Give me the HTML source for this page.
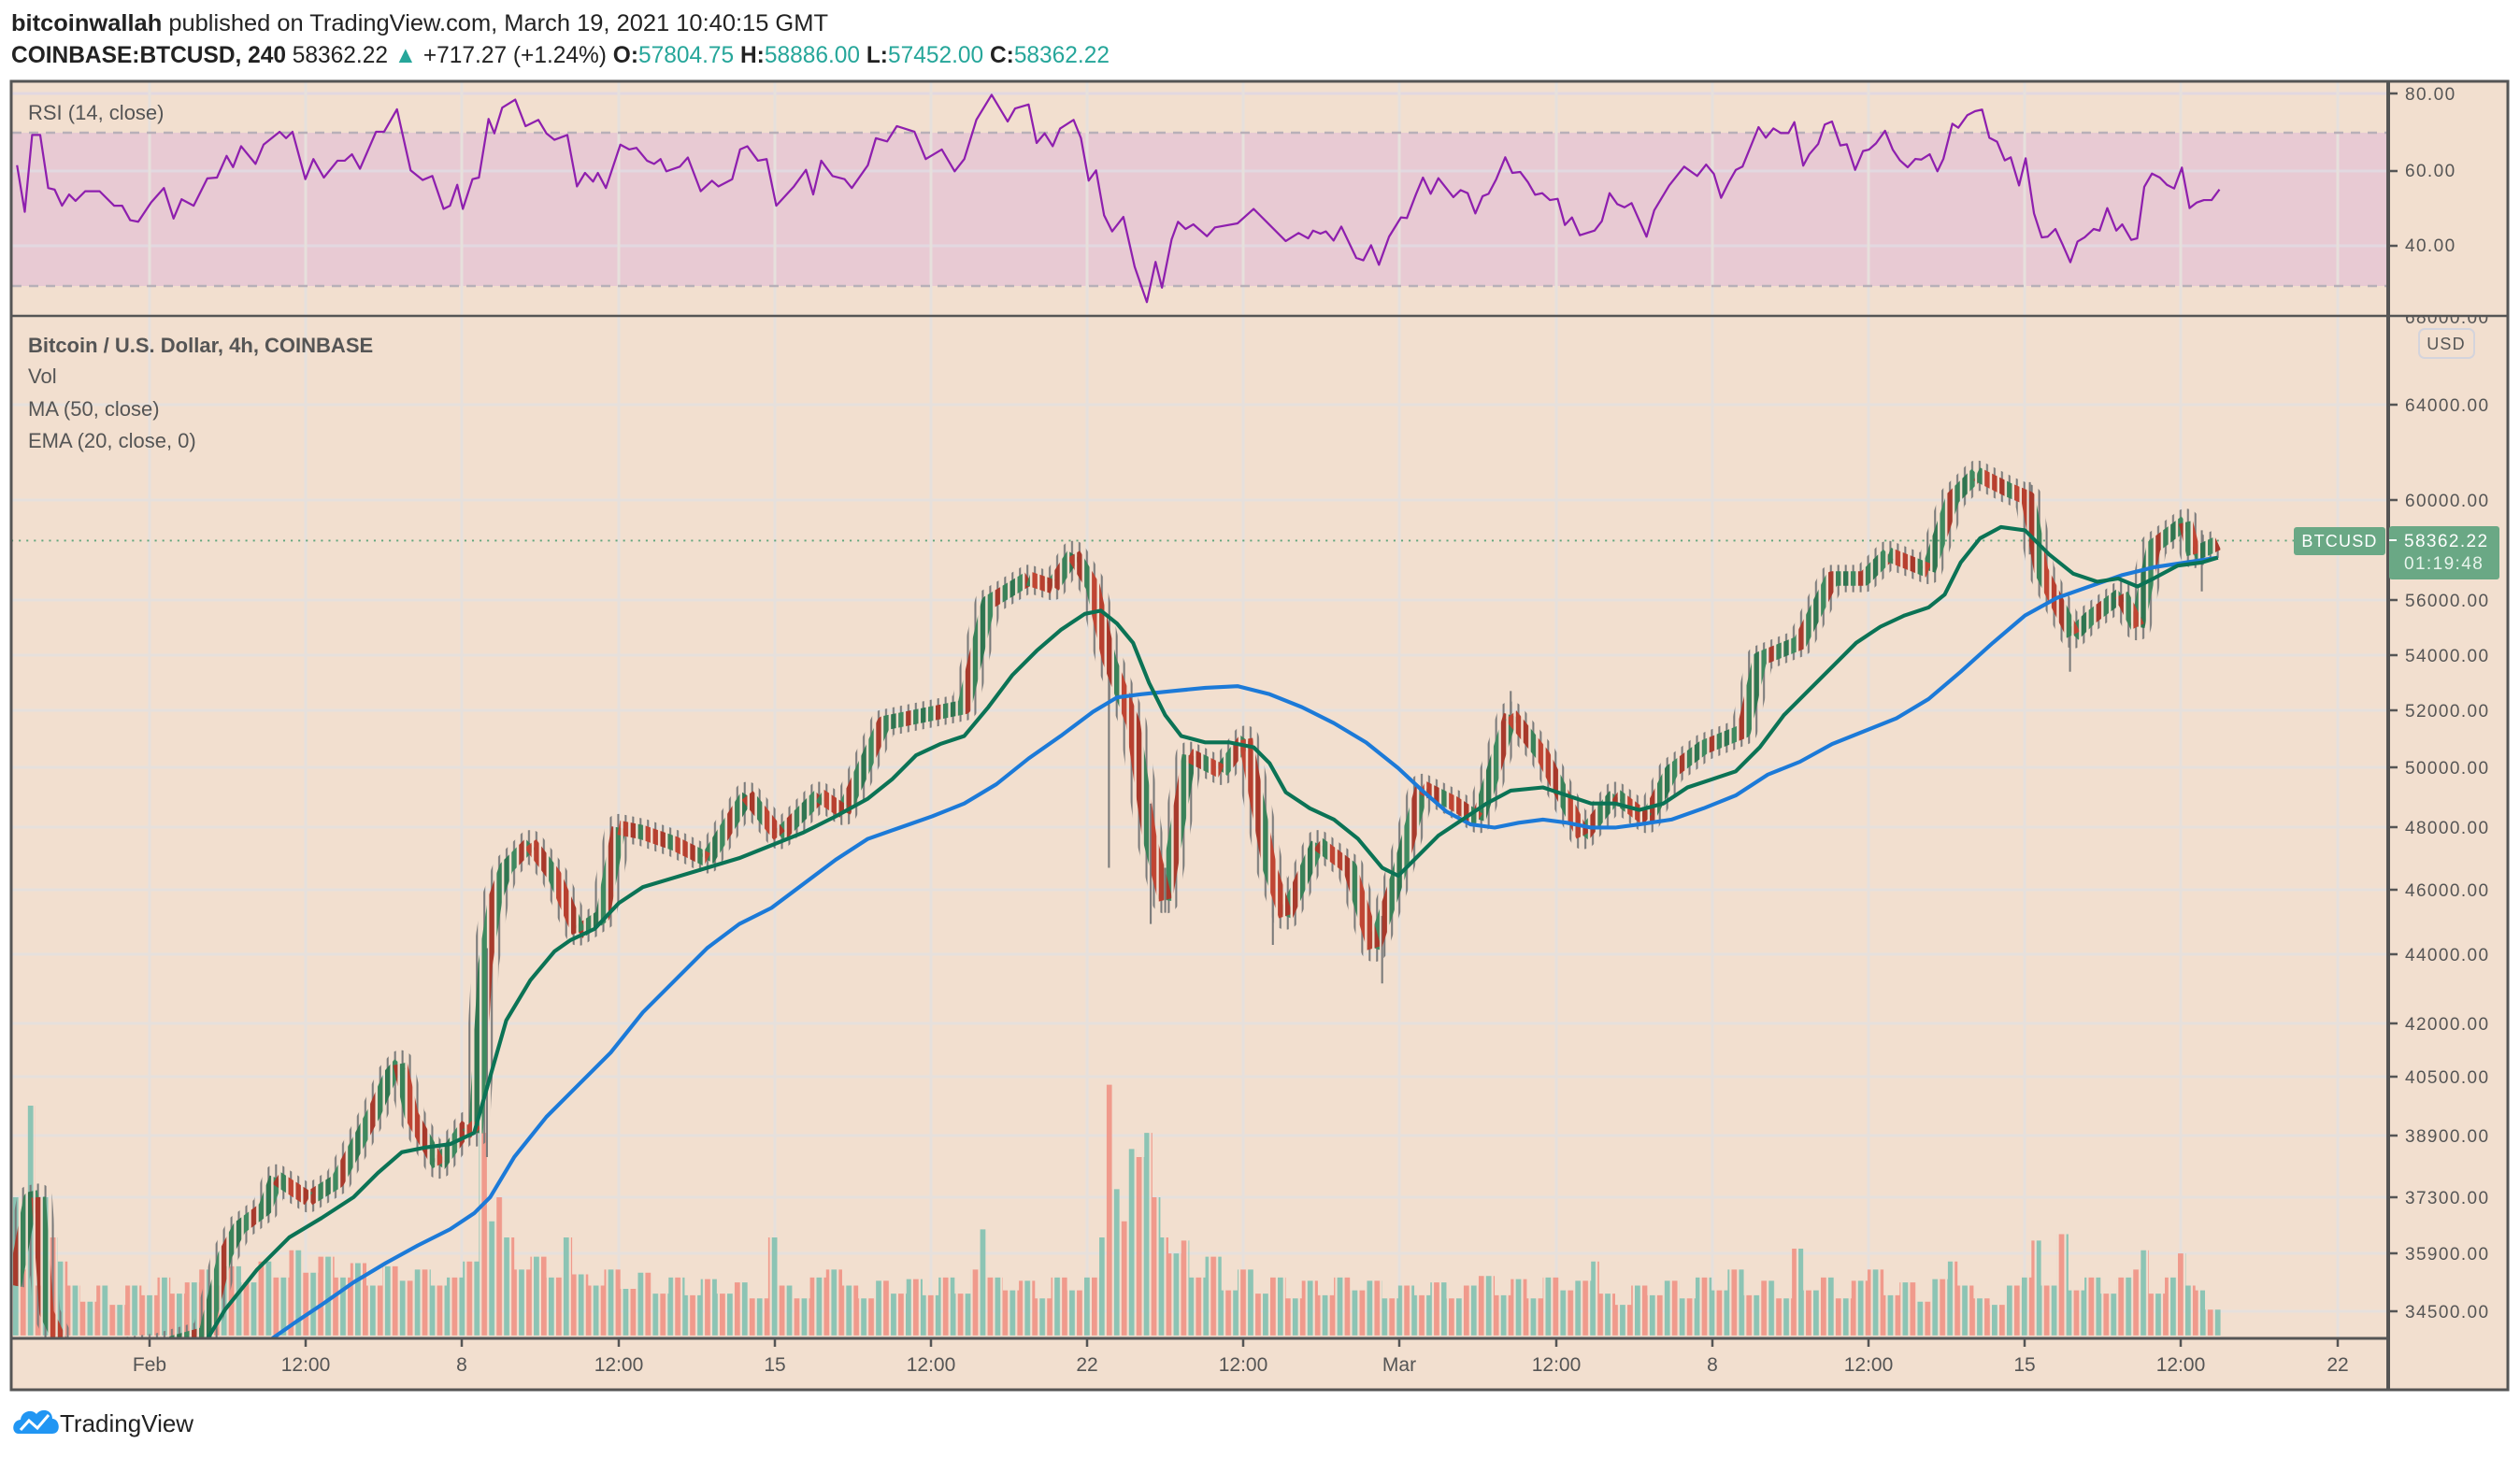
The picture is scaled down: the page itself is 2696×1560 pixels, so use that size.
<!DOCTYPE html>
<html><head><meta charset="utf-8"><style>
html,body{margin:0;padding:0;background:#fff;}
body{width:2696px;height:1560px;overflow:hidden;}
svg{display:block;font-family:"Liberation Sans",sans-serif;}
</style></head><body>
<svg width="2696" height="1560" viewBox="0 0 2696 1560" xmlns="http://www.w3.org/2000/svg">
<defs>
<clipPath id="cp"><rect x="13" y="339" width="2541" height="1092"/></clipPath>
<clipPath id="cr"><rect x="13" y="88" width="2541" height="249"/></clipPath>
<clipPath id="ca"><rect x="2557" y="339" width="125" height="1092"/></clipPath>
<pattern id="pv" patternUnits="userSpaceOnUse" x="91.41" y="0" width="9.258" height="1000">
<rect x="0" y="0" width="3.35" height="1000" fill="#8cc4b4"/>
<rect x="4.629" y="0" width="3.35" height="1000" fill="#f09a8c"/>
</pattern>
<pattern id="pw" patternUnits="userSpaceOnUse" x="91.49" y="0" width="4.629" height="1000">
<rect x="0.97" y="0" width="1.2" height="1000" fill="#7a7a7a"/>
</pattern>
<pattern id="pg" patternUnits="userSpaceOnUse" x="91.49" y="0" width="18.516" height="1000">
<rect x="0" y="0" width="3.14" height="1000" fill="#2f7550"/>
<rect x="4.629" y="0" width="3.14" height="1000" fill="#3f8a60"/>
<rect x="9.258" y="0" width="3.14" height="1000" fill="#a83a2c"/>
<rect x="13.887" y="0" width="3.14" height="1000" fill="#3a8259"/>
</pattern>
<pattern id="pr" patternUnits="userSpaceOnUse" x="91.49" y="0" width="18.516" height="1000">
<rect x="0" y="0" width="3.14" height="1000" fill="#b8402f"/>
<rect x="4.629" y="0" width="3.14" height="1000" fill="#a8382a"/>
<rect x="9.258" y="0" width="3.14" height="1000" fill="#3a8259"/>
<rect x="13.887" y="0" width="3.14" height="1000" fill="#c04533"/>
</pattern>
</defs>
<rect x="12" y="87" width="2671" height="1400" fill="#f2dfcf"/>
<rect x="13" y="142" width="2541" height="164" fill="#e8cad3"/>
<g stroke="#e6e0dc" stroke-width="3">
<line x1="13" x2="2554" y1="100" y2="100" stroke="#e2d8e0"/><line x1="13" x2="2554" y1="183" y2="183" stroke="#e2d8e0"/><line x1="13" x2="2554" y1="263" y2="263" stroke="#e2d8e0"/>
<line x1="13" x2="2554" y1="433" y2="433"/><line x1="13" x2="2554" y1="535" y2="535"/><line x1="13" x2="2554" y1="642" y2="642"/><line x1="13" x2="2554" y1="701" y2="701"/><line x1="13" x2="2554" y1="760" y2="760"/><line x1="13" x2="2554" y1="821" y2="821"/><line x1="13" x2="2554" y1="885" y2="885"/><line x1="13" x2="2554" y1="952" y2="952"/><line x1="13" x2="2554" y1="1021" y2="1021"/><line x1="13" x2="2554" y1="1095" y2="1095"/><line x1="13" x2="2554" y1="1152" y2="1152"/><line x1="13" x2="2554" y1="1215" y2="1215"/><line x1="13" x2="2554" y1="1281" y2="1281"/><line x1="13" x2="2554" y1="1341" y2="1341"/><line x1="13" x2="2554" y1="1403" y2="1403"/>
<line x1="160" x2="160" y1="88" y2="1431"/><line x1="327" x2="327" y1="88" y2="1431"/><line x1="494" x2="494" y1="88" y2="1431"/><line x1="662" x2="662" y1="88" y2="1431"/><line x1="829" x2="829" y1="88" y2="1431"/><line x1="996" x2="996" y1="88" y2="1431"/><line x1="1163" x2="1163" y1="88" y2="1431"/><line x1="1330" x2="1330" y1="88" y2="1431"/><line x1="1497" x2="1497" y1="88" y2="1431"/><line x1="1665" x2="1665" y1="88" y2="1431"/><line x1="1832" x2="1832" y1="88" y2="1431"/><line x1="1999" x2="1999" y1="88" y2="1431"/><line x1="2166" x2="2166" y1="88" y2="1431"/><line x1="2333" x2="2333" y1="88" y2="1431"/><line x1="2501" x2="2501" y1="88" y2="1431"/>
</g>
<line x1="13" y1="142" x2="2554" y2="142" stroke="#b8b0b8" stroke-width="2.5" stroke-dasharray="10,8"/>
<line x1="13" y1="306" x2="2554" y2="306" stroke="#b8b0b8" stroke-width="2.5" stroke-dasharray="10,8"/>

<g clip-path="url(#cp)">
<g transform="scale(1.7194)">
<polygon fill="url(#pv)" points="7,831 7,745 12,745 12,790 17,790 17,688 22,688 22,800 26,800 26,745 31,745 31,770 36,770 36,785 42,785 42,800 50,800 50,810 60,810 60,800 68,800 68,812 78,812 78,800 88,800 88,806 98,806 98,795 106,795 106,805 115,805 115,798 124,798 124,790 130,790 130,800 140,800 140,788 150,788 150,798 160,798 160,785 170,785 170,795 180,795 180,778 188,778 188,792 198,792 198,782 208,782 208,795 218,795 218,786 228,786 228,800 238,800 238,788 248,788 248,797 258,797 258,790 268,790 268,800 278,800 278,795 288,795 288,785 298,785 298,705 303,705 303,760 308,760 308,745 313,745 313,770 320,770 320,790 330,790 330,782 340,782 340,795 350,795 350,770 356,770 356,793 366,793 366,800 376,800 376,790 386,790 386,802 396,802 396,792 406,792 406,805 416,805 416,795 426,795 426,806 436,806 436,796 446,796 446,805 456,805 456,798 466,798 466,808 478,808 478,770 484,770 484,800 494,800 494,808 504,808 504,795 514,795 514,790 524,790 524,800 534,800 534,808 544,808 544,797 554,797 554,805 564,805 564,796 574,796 574,806 584,806 584,795 594,795 594,805 604,805 604,790 609,790 609,765 614,765 614,795 624,795 624,803 634,803 634,797 644,797 644,808 654,808 654,795 664,795 664,803 674,803 674,795 684,795 684,770 688,770 688,675 692,675 692,740 697,740 697,760 702,760 702,715 707,715 707,720 712,720 712,705 717,705 717,745 722,745 722,770 727,770 727,780 735,780 735,772 740,772 740,795 750,795 750,782 760,782 760,803 770,803 770,790 780,790 780,805 790,805 790,795 800,795 800,808 810,808 810,797 820,797 820,806 830,806 830,795 840,795 840,803 850,803 850,797 860,797 860,808 870,808 870,800 880,800 880,806 890,806 890,798 900,798 900,808 910,808 910,800 920,800 920,794 930,794 930,806 940,806 940,796 950,796 950,808 960,808 960,795 970,795 970,803 980,803 980,797 990,797 990,785 995,785 995,805 1005,805 1005,812 1015,812 1015,800 1025,800 1025,806 1035,806 1035,797 1045,797 1045,808 1055,808 1055,795 1065,795 1065,803 1075,803 1075,790 1085,790 1085,806 1095,806 1095,797 1105,797 1105,808 1115,808 1115,777 1122,777 1122,803 1132,803 1132,795 1142,795 1142,808 1152,808 1152,797 1162,797 1162,790 1172,790 1172,806 1182,806 1182,798 1192,798 1192,810 1202,810 1202,796 1212,796 1212,785 1218,785 1218,800 1228,800 1228,808 1238,808 1238,812 1248,812 1248,800 1258,800 1258,795 1264,795 1264,772 1270,772 1270,800 1280,800 1280,768 1287,768 1287,803 1297,803 1297,795 1307,795 1307,805 1317,805 1317,795 1327,795 1327,790 1332,790 1332,778 1337,778 1337,805 1347,805 1347,795 1355,795 1355,780 1360,780 1360,800 1366,800 1366,803 1372,803 1372,815 1382,815 1382,831"/>
<line x1="7" y1="336.4" x2="1480" y2="336.4" stroke="#5fa57c" stroke-width="1.1" stroke-dasharray="1.2,3.5"/>
<polyline fill="none" stroke="url(#pw)" stroke-width="17" stroke-linejoin="round" points="9,800 19,746 24,745 29,817 40,840 58,843 99,838 128,830 140,781 149,764 165,752 172,733 192,746 210,735 233,692 243,669 249,662 256,694 273,725 291,700 296,705 302,600 308,560 315,540 330,525 345,545 360,580 375,570 385,515 400,518 420,525 440,535 465,495 485,520 510,495 525,505 550,450 575,445 600,440 615,375 640,360 655,365 668,345 680,365 690,410 705,450 715,520 725,560 740,470 760,480 775,460 790,540 800,570 820,525 840,540 855,590 870,545 885,490 905,500 920,510 940,445 960,470 985,520 1005,495 1025,510 1040,480 1060,465 1085,455 1095,410 1120,400 1140,360 1160,360 1175,345 1200,355 1215,310 1230,295 1250,305 1262,310 1270,355 1290,395 1300,385 1320,370 1330,390 1340,340 1360,325 1365,345 1380,338"/>
<g stroke="#7a7a7a" stroke-width="1.2">
<line x1="690" y1="400" x2="690" y2="540"/><line x1="716" y1="500" x2="716" y2="575"/><line x1="725" y1="540" x2="725" y2="568"/><line x1="792" y1="520" x2="792" y2="588"/><line x1="860" y1="570" x2="860" y2="612"/><line x1="940" y1="430" x2="940" y2="455"/><line x1="1288" y1="390" x2="1288" y2="418"/><line x1="1370" y1="330" x2="1370" y2="368"/><line x1="303" y1="590" x2="303" y2="720"/><line x1="1263" y1="300" x2="1263" y2="345"/>
</g>
<path fill="none" stroke="url(#pg)" stroke-width="9" stroke-linecap="butt" stroke-linejoin="round" d="M9,800 L19,746 L24,745 M58,843 L99,838 L128,830 L140,781 L149,764 L165,752 L172,733 M192,746 L210,735 L233,692 L243,669 L249,662 M273,725 L291,700 M296,705 L302,600 L308,560 L315,540 L330,525 M360,580 L375,570 L385,515 M440,535 L465,495 M485,520 L510,495 M525,505 L550,450 L575,445 L600,440 L615,375 L640,360 M655,365 L668,345 M725,560 L740,470 M760,480 L775,460 M800,570 L820,525 M855,590 L870,545 L885,490 M920,510 L940,445 M985,520 L1005,495 M1025,510 L1040,480 L1060,465 L1085,455 L1095,410 L1120,400 L1140,360 L1160,360 L1175,345 M1200,355 L1215,310 L1230,295 M1290,395 L1300,385 L1320,370 M1330,390 L1340,340 L1360,325 M1365,345 L1380,338"/>
<path fill="none" stroke="url(#pr)" stroke-width="9" stroke-linecap="butt" stroke-linejoin="round" d="M24,745 L29,817 L40,840 L58,843 M172,733 L192,746 M249,662 L256,694 L273,725 M291,700 L296,705 M330,525 L345,545 L360,580 M385,515 L400,518 L420,525 L440,535 M465,495 L485,520 M510,495 L525,505 M640,360 L655,365 M668,345 L680,365 L690,410 L705,450 L715,520 L725,560 M740,470 L760,480 M775,460 L790,540 L800,570 M820,525 L840,540 L855,590 M885,490 L905,500 L920,510 M940,445 L960,470 L985,520 M1005,495 L1025,510 M1175,345 L1200,355 M1230,295 L1250,305 L1262,310 L1270,355 L1290,395 M1320,370 L1330,390 M1360,325 L1365,345"/>
<polyline fill="none" stroke="#1c7ad8" stroke-width="2.4" stroke-linejoin="round" points="165,836 185,822 200,812 220,798 240,786 260,775 280,765 295,755 305,745 320,720 340,695 360,675 380,655 400,630 420,610 440,590 460,575 480,565 500,550 520,535 540,522 560,515 580,508 600,500 620,488 640,472 660,458 680,443 695,434 710,432 730,430 750,428 770,427 790,432 810,440 830,450 850,462 870,478 885,492 900,505 915,513 930,515 945,512 960,510 975,512 990,515 1005,515 1020,513 1040,510 1060,503 1080,495 1100,482 1120,474 1140,463 1160,455 1180,447 1200,435 1220,418 1240,400 1260,383 1280,372 1300,365 1320,358 1340,353 1360,350 1380,347"/>
<polyline fill="none" stroke="#0b7355" stroke-width="2.4" stroke-linejoin="round" points="125,840 140,815 160,790 180,770 200,758 220,745 235,730 250,717 265,714 280,712 295,705 305,670 315,635 330,610 345,592 355,585 370,578 385,562 400,552 420,546 440,540 460,534 480,526 500,518 520,508 540,497 555,485 570,470 585,463 600,458 615,440 630,420 645,405 660,392 675,382 685,380 695,388 705,400 715,425 725,445 735,458 750,462 765,462 780,465 790,475 800,493 815,503 830,510 845,522 860,540 870,545 880,535 895,520 910,510 925,500 940,492 960,490 975,495 990,500 1005,500 1020,504 1035,500 1050,490 1065,485 1080,480 1095,465 1110,445 1125,430 1140,415 1155,400 1170,390 1185,383 1200,378 1210,370 1220,350 1232,335 1245,328 1260,330 1275,345 1290,357 1305,362 1318,360 1330,365 1340,360 1355,352 1370,350 1380,347"/>
</g>
</g>
<g clip-path="url(#cr)">
<polyline transform="scale(1.7194)" fill="none" stroke="#8e1fae" stroke-width="1.3" stroke-linejoin="round" points="10.6,102.8 15.4,131.8 20,84 25,84 30,117 34,118 38.6,128 43,121 47,125 53,119 62,119 71,128 76,128 81,137 86,138 94,126 102,117 108,136 113,124 120.5,128 129,111 135,110.5 141,97 145,104 150,91 159,102 164,90 174,82 178,86 182,82 190,111.5 195,99 201.5,110.5 210,100 214.5,100 219,96 224,105 234,82 239,82 247,68 255.5,106 263,112 269,109.5 276,130 280,128 284.5,115 288,130 294,111.5 298,110.5 304,74 307.6,83 312.5,67 320.6,62 327,78.5 335,74.6 340,83 345,87 353,84 359,116 364,107.6 369,113 372,107.6 377,117 386,90 391.5,93 396,92 402.6,100 407,102 411,99 414.6,106.6 423,103.7 428,98 436,119 443,112.5 447,116 455.6,111.5 460.5,93 465,91 471.6,100 477,99 483,128 494,116 501.5,105.7 506,121 511,100 518,109.5 525.5,111.5 530,117 540,102.8 545,86 552,88 558,78.5 569,82 576,99 586,93 594,106.6 600,99 607.5,74.6 617,59 627,75.6 631.6,67.5 640,65 645,89 650,83 655,91 659.6,80 668,74.6 672.6,86 677.4,112.4 682,106 687,134 692,144 699,135 706,166 713.6,188 719,163 723,179 729,149 733,138 737.7,142.5 742.5,139.6 751,147 756,141.5 770,139 780,130 790,140 800,150 808,145 814,148.3 817,143.5 821.6,145.4 825,144 829.8,149.7 834.6,141 843.9,160.5 848.3,162 853.1,152.6 858,164.8 864.3,147.3 871.7,135.3 875.4,135.7 881,121 885.4,110.5 890.2,120.6 895,110.9 904.3,122.7 908.8,118.3 913.2,120.2 918,132.8 922.5,122.1 926.2,120.6 931,111.5 936.6,97.9 941,107.6 945.9,107 950.7,113.4 955.2,121.2 959.6,120.2 964.4,124.5 969.2,123.7 973.7,140 978.1,135.3 983,146.4 992.2,143.5 996.7,137.6 1001.5,120.2 1006.3,127 1010.8,129 1015.2,126.4 1024.5,147.3 1029.3,130.9 1038.6,115.4 1047.9,103.7 1056,109.5 1061.6,102.4 1066.4,108.2 1070.9,123.1 1075.7,113.4 1080.1,105.7 1084.2,103.7 1094.2,79.1 1098.7,85.7 1103.5,79.9 1108,82.8 1112.8,82.8 1116.5,76 1122,103.1 1125.8,96 1131.3,89.6 1135.4,77.5 1139.9,75.6 1145.1,90.5 1149.1,89.8 1154.3,105.7 1159.2,94 1162.9,93.1 1167.3,89.2 1172.9,81.4 1177.7,93.1 1182.2,99.8 1187,104.1 1191.8,98.9 1195.5,99.3 1200.7,96 1205.5,106.6 1209.2,98.9 1214.8,77 1218.5,79.5 1224.1,71.7 1228.9,69.2 1233.3,68.2 1237.8,85.7 1242.6,88.2 1247.4,99.8 1251.1,97.9 1256.3,115.4 1260.4,98.5 1265.6,132.8 1270.4,147.7 1274.1,147.3 1278.9,142.5 1283.4,152.2 1288.2,163.2 1292.7,150.3 1297.1,147.7 1302.7,142.5 1306.4,143.5 1311.2,129.5 1316.8,143.5 1320.5,139.6 1326.1,149.3 1329.8,148.3 1334.2,116.3 1339,108 1343.9,110.5 1348.3,115 1352.8,117.3 1357.6,104.3 1362.4,129.5 1366.9,126 1371.3,124.5 1376.1,124.5 1381,117.9"/>
</g>
<rect x="12" y="87" width="2671" height="1400" fill="none" stroke="#555" stroke-width="3"/>
<line x1="12" y1="338" x2="2683" y2="338" stroke="#555" stroke-width="2.5"/>
<line x1="2555" y1="87" x2="2555" y2="1487" stroke="#555" stroke-width="4"/>
<line x1="12" y1="1432" x2="2555" y2="1432" stroke="#555" stroke-width="3"/>
<g stroke="#555" stroke-width="2.5">
<line x1="2555" x2="2565" y1="100" y2="100"/><line x1="2555" x2="2565" y1="183" y2="183"/><line x1="2555" x2="2565" y1="263" y2="263"/>
<line x1="2555" x2="2565" y1="433" y2="433"/><line x1="2555" x2="2565" y1="535" y2="535"/><line x1="2555" x2="2565" y1="642" y2="642"/><line x1="2555" x2="2565" y1="701" y2="701"/><line x1="2555" x2="2565" y1="760" y2="760"/><line x1="2555" x2="2565" y1="821" y2="821"/><line x1="2555" x2="2565" y1="885" y2="885"/><line x1="2555" x2="2565" y1="952" y2="952"/><line x1="2555" x2="2565" y1="1021" y2="1021"/><line x1="2555" x2="2565" y1="1095" y2="1095"/><line x1="2555" x2="2565" y1="1152" y2="1152"/><line x1="2555" x2="2565" y1="1215" y2="1215"/><line x1="2555" x2="2565" y1="1281" y2="1281"/><line x1="2555" x2="2565" y1="1341" y2="1341"/><line x1="2555" x2="2565" y1="1403" y2="1403"/>
<line x1="160" x2="160" y1="1432" y2="1441"/><line x1="327" x2="327" y1="1432" y2="1441"/><line x1="494" x2="494" y1="1432" y2="1441"/><line x1="662" x2="662" y1="1432" y2="1441"/><line x1="829" x2="829" y1="1432" y2="1441"/><line x1="996" x2="996" y1="1432" y2="1441"/><line x1="1163" x2="1163" y1="1432" y2="1441"/><line x1="1330" x2="1330" y1="1432" y2="1441"/><line x1="1497" x2="1497" y1="1432" y2="1441"/><line x1="1665" x2="1665" y1="1432" y2="1441"/><line x1="1832" x2="1832" y1="1432" y2="1441"/><line x1="1999" x2="1999" y1="1432" y2="1441"/><line x1="2166" x2="2166" y1="1432" y2="1441"/><line x1="2333" x2="2333" y1="1432" y2="1441"/><line x1="2501" x2="2501" y1="1432" y2="1441"/>
</g>
<text x="12" y="33" font-size="25" fill="#222" textLength="874" lengthAdjust="spacingAndGlyphs"><tspan font-weight="bold">bitcoinwallah</tspan> published on TradingView.com, March 19, 2021 10:40:15 GMT</text>
<text x="12" y="67" font-size="25" fill="#222" textLength="1175" lengthAdjust="spacingAndGlyphs"><tspan font-weight="bold">COINBASE:BTCUSD, 240</tspan> 58362.22 <tspan fill="#26a69a">▲</tspan> +717.27 (+1.24%) <tspan font-weight="bold">O:</tspan><tspan fill="#26a69a">57804.75</tspan> <tspan font-weight="bold">H:</tspan><tspan fill="#26a69a">58886.00</tspan> <tspan font-weight="bold">L:</tspan><tspan fill="#26a69a">57452.00</tspan> <tspan font-weight="bold">C:</tspan><tspan fill="#26a69a">58362.22</tspan></text>
<text x="30" y="128" font-size="22" fill="#555">RSI (14, close)</text>
<text x="30" y="377" font-size="22" fill="#555" font-weight="bold">Bitcoin / U.S. Dollar, 4h, COINBASE</text>
<text x="30" y="410" font-size="22" fill="#555">Vol</text>
<text x="30" y="445" font-size="22" fill="#555">MA (50, close)</text>
<text x="30" y="479" font-size="22" fill="#555">EMA (20, close, 0)</text>
<g font-size="19" fill="#555" letter-spacing="1.4">
<text x="2573" y="107">80.00</text>
<text x="2573" y="189">60.00</text>
<text x="2573" y="269">40.00</text>
</g>
<g font-size="19" fill="#555" letter-spacing="1.4" clip-path="url(#ca)">
<text x="2573" y="346">68000.00</text>
<text x="2573" y="440">64000.00</text>
<text x="2573" y="542">60000.00</text>
<text x="2573" y="649">56000.00</text>
<text x="2573" y="708">54000.00</text>
<text x="2573" y="767">52000.00</text>
<text x="2573" y="828">50000.00</text>
<text x="2573" y="892">48000.00</text>
<text x="2573" y="959">46000.00</text>
<text x="2573" y="1028">44000.00</text>
<text x="2573" y="1102">42000.00</text>
<text x="2573" y="1159">40500.00</text>
<text x="2573" y="1222">38900.00</text>
<text x="2573" y="1288">37300.00</text>
<text x="2573" y="1348">35900.00</text>
<text x="2573" y="1410">34500.00</text>
</g>
<rect x="2588" y="352" width="59" height="31" rx="6" fill="#f2dfcf" stroke="#d4d4dc" stroke-width="2"/>
<text x="2617" y="374" font-size="18" fill="#555" text-anchor="middle" letter-spacing="1.2">USD</text>
<rect x="2454" y="564" width="98" height="30" rx="3" fill="#6aa885"/>
<text x="2503" y="585" font-size="18" fill="#fff" text-anchor="middle" letter-spacing="1.2">BTCUSD</text>
<rect x="2556" y="563" width="118" height="57" rx="3" fill="#6aa885"/>
<line x1="2556" y1="578" x2="2564" y2="578" stroke="#fff" stroke-width="2"/>
<text x="2572" y="585" font-size="19" fill="#fff" letter-spacing="1.4">58362.22</text>
<text x="2572" y="609" font-size="19" fill="#e8f4ec" letter-spacing="1.4">01:19:48</text>
<g font-size="21" fill="#555" text-anchor="middle">
<text x="160" y="1467">Feb</text>
<text x="327" y="1467">12:00</text>
<text x="494" y="1467">8</text>
<text x="662" y="1467">12:00</text>
<text x="829" y="1467">15</text>
<text x="996" y="1467">12:00</text>
<text x="1163" y="1467">22</text>
<text x="1330" y="1467">12:00</text>
<text x="1497" y="1467">Mar</text>
<text x="1665" y="1467">12:00</text>
<text x="1832" y="1467">8</text>
<text x="1999" y="1467">12:00</text>
<text x="2166" y="1467">15</text>
<text x="2333" y="1467">12:00</text>
<text x="2501" y="1467">22</text>
</g>
<g transform="translate(14,1504)">
<path d="M6,30 C-2,30 -2,16 8,15 C9,6 20,3 25,9 C30,2 42,4 42,14 C50,14 52,30 42,30 Z" fill="#2196f3"/>
<polyline points="8,26 17,16 26,24 38,10" fill="none" stroke="#fff" stroke-width="3"/>
</g>
<text x="64" y="1532" font-size="26" fill="#222">TradingView</text>
</svg>
</body></html>
